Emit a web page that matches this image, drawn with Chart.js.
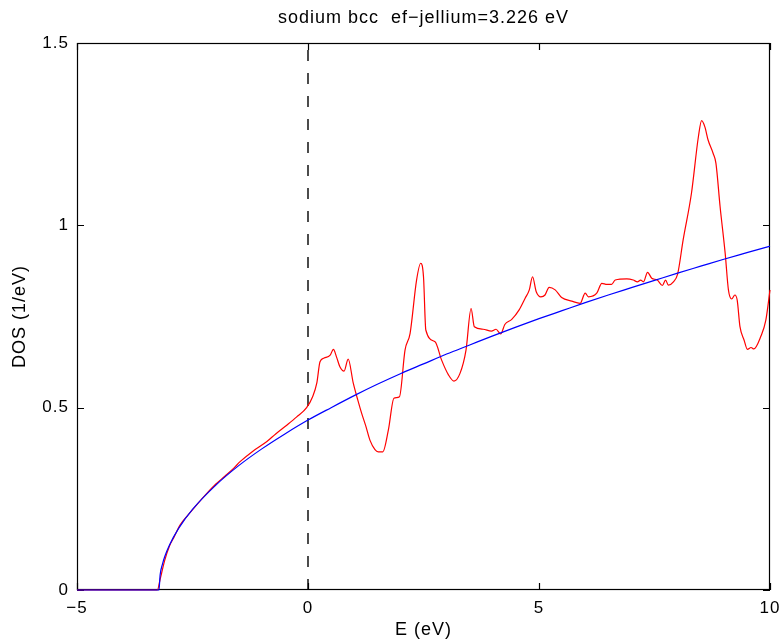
<!DOCTYPE html>
<html>
<head>
<meta charset="utf-8">
<script src="https://cdn.jsdelivr.net/npm/chart.js@4/dist/chart.umd.min.js"></script>
<style>
  body { margin: 0; background: #fff; }
  canvas { display: block; }
</style>
</head>
<body>
<canvas id="dos" width="782" height="643"></canvas>
<script>
// red curve: computed DOS for bcc sodium
const redE = [-5, -3.26, -3.2, -3.1, -3.0, -2.9, -2.77, -2.6, -2.4, -2.19, -2.0, -1.8, -1.6, -1.47,
  -1.2, -0.89, -0.7, -0.46, -0.25, -0.03, 0.1, 0.19, 0.26, 0.35, 0.48, 0.55, 0.62, 0.69, 0.78, 0.87,
  0.98, 1.08, 1.16, 1.25, 1.34, 1.45, 1.52, 1.62, 1.74, 1.86, 1.98, 2.1, 2.21, 2.35, 2.44, 2.5, 2.55,
  2.75, 2.89, 3.04, 3.16, 3.29, 3.42, 3.53, 3.6, 3.79, 3.97, 4.07, 4.17, 4.26, 4.41, 4.57, 4.7, 4.79,
  4.86, 4.94, 5.04, 5.13, 5.22, 5.35, 5.49, 5.71, 5.89, 6.0, 6.07, 6.25, 6.36, 6.47, 6.57, 6.65, 6.9,
  7.04, 7.13, 7.2, 7.26, 7.35, 7.44, 7.56, 7.67, 7.74, 7.8, 7.91, 8.0, 8.12, 8.3, 8.45, 8.52, 8.59,
  8.66, 8.77, 8.83, 8.92, 9.03, 9.1, 9.17, 9.24, 9.29, 9.35, 9.44, 9.51, 9.59, 9.65, 9.8, 9.91, 10.0];
const redDos = [0, 0, 0.03, 0.082, 0.12, 0.145, 0.178, 0.205, 0.235, 0.265, 0.29, 0.312, 0.335, 0.352,
  0.38, 0.407, 0.428, 0.452, 0.474, 0.5, 0.53, 0.567, 0.626, 0.636, 0.644, 0.66, 0.638, 0.612, 0.6, 0.633,
  0.567, 0.52, 0.485, 0.45, 0.411, 0.385, 0.379, 0.379, 0.439, 0.526, 0.53, 0.658, 0.704, 0.85, 0.896, 0.859, 0.713,
  0.681, 0.631, 0.59, 0.573, 0.594, 0.658, 0.772, 0.722, 0.715, 0.71, 0.715, 0.702, 0.728, 0.742, 0.768, 0.8, 0.823,
  0.859, 0.818, 0.804, 0.809, 0.83, 0.823, 0.802, 0.792, 0.786, 0.814, 0.804, 0.814, 0.841, 0.838, 0.838, 0.85, 0.853,
  0.85, 0.845, 0.85, 0.845, 0.871, 0.855, 0.85, 0.835, 0.85, 0.836, 0.845, 0.866, 0.96, 1.088, 1.243, 1.287, 1.27,
  1.234, 1.197, 1.17, 1.051, 0.923, 0.823, 0.798, 0.809, 0.795, 0.722, 0.685, 0.66, 0.665, 0.661, 0.695, 0.74, 0.823];

// blue curve: free-electron (jellium) DOS
const blueE = [-5, -3.226, -3.2, -3.15, -3.1, -3.0, -2.8, -2.5, -2.0, -1.5, -1.0, -0.5, 0, 0.5, 1, 1.5,
  2, 2.5, 3, 3.5, 4, 4.5, 5, 5.5, 6, 6.5, 7, 7.5, 8, 8.5, 9, 9.5, 10];
const blueDos = [0, 0, 0.042, 0.071, 0.092, 0.123, 0.169, 0.221, 0.287, 0.341, 0.387, 0.428, 0.466, 0.5,
  0.533, 0.564, 0.593, 0.62, 0.647, 0.672, 0.697, 0.721, 0.744, 0.766, 0.788, 0.809, 0.829, 0.849, 0.869,
  0.888, 0.907, 0.925, 0.943];

// Fermi level marker
const fermiE = [0, 0];
const fermiDos = [0, 1.5];

const xTicks = [-5, 0, 5, 10];
const yTicks = [0, 0.5, 1, 1.5];

const pts = (xs, ys) => xs.map((x, i) => ({ x: x, y: ys[i] }));
const fmt = v => (v < 0 ? '\u2212' + Math.abs(v) : String(v));

// box round the axes with inward tick marks on all four sides
const frame = {
  id: 'frame',
  beforeDraw(chart) {
    chart.ctx.letterSpacing = '1px';
  },
  beforeDatasetsDraw(chart) {
    const { ctx, chartArea: a, scales: { x, y } } = chart;
    const len = 7;
    ctx.save();
    ctx.strokeStyle = '#000';
    ctx.lineWidth = 1.2;
    ctx.strokeRect(a.left + 0.5, a.top + 0.5, a.width - 1, a.height - 1);
    ctx.beginPath();
    x.ticks.forEach(t => {
      const px = Math.round(x.getPixelForValue(t.value)) + 0.5;
      ctx.moveTo(px, a.bottom); ctx.lineTo(px, a.bottom - len);
      ctx.moveTo(px, a.top); ctx.lineTo(px, a.top + len);
    });
    y.ticks.forEach(t => {
      const py = Math.round(y.getPixelForValue(t.value)) + 0.5;
      ctx.moveTo(a.left, py); ctx.lineTo(a.left + len, py);
      ctx.moveTo(a.right, py); ctx.lineTo(a.right - len, py);
    });
    ctx.stroke();
    ctx.restore();
  }
};

const font = { family: '"Liberation Sans", Arial, sans-serif' };

new Chart(document.getElementById('dos'), {
  type: 'line',
  data: {
    datasets: [
      {
        data: pts(blueE, blueDos),
        borderColor: '#0000ff',
        borderWidth: 1.2,
        pointRadius: 0,
        clip: 3,
        cubicInterpolationMode: 'monotone'
      },
      {
        data: pts(redE, redDos),
        borderColor: '#ff0000',
        borderWidth: 1.2,
        pointRadius: 0,
        clip: 3,
        cubicInterpolationMode: 'monotone'
      },
      {
        data: pts(fermiE, fermiDos),
        borderColor: '#000000',
        borderWidth: 1.4,
        borderDash: [11, 12],
        pointRadius: 0
      }
    ]
  },
  options: {
    responsive: false,
    devicePixelRatio: 1,
    animation: false,
    layout: { padding: { left: 0, right: 12, top: 0, bottom: 0 } },
    plugins: {
      legend: { display: false },
      tooltip: { enabled: false },
      title: {
        display: true,
        fullSize: false,
        text: 'sodium bcc  ef\u2212jellium=3.226 eV',
        color: '#000',
        font: { ...font, size: 18, weight: 'normal' },
        padding: { top: 7, bottom: 14.4 }
      }
    },
    scales: {
      x: {
        type: 'linear',
        min: -5,
        max: 10,
        afterBuildTicks: s => { s.ticks = xTicks.map(v => ({ value: v })); },
        afterFit: s => { s.height = 53; s.paddingLeft = 0; s.paddingRight = 0; },
        grid: { display: false, drawTicks: false },
        border: { display: false },
        ticks: { color: '#000', font: { ...font, size: 17 }, padding: 8, callback: fmt, maxRotation: 0 },
        title: { display: true, text: 'E (eV)', color: '#000', font: { ...font, size: 18 }, padding: { top: 0, bottom: 2 } }
      },
      y: {
        type: 'linear',
        min: 0,
        max: 1.5,
        afterBuildTicks: s => { s.ticks = yTicks.map(v => ({ value: v })); },
        afterFit: s => { s.width = 77; },
        grid: { display: false, drawTicks: false },
        border: { display: false },
        ticks: { color: '#000', font: { ...font, size: 17 }, padding: 8, callback: fmt },
        title: { display: true, text: 'DOS (1/eV)', color: '#000', font: { ...font, size: 18 }, padding: { top: 9, bottom: 0 } }
      }
    }
  },
  plugins: [frame]
});
</script>
</body>
</html>
